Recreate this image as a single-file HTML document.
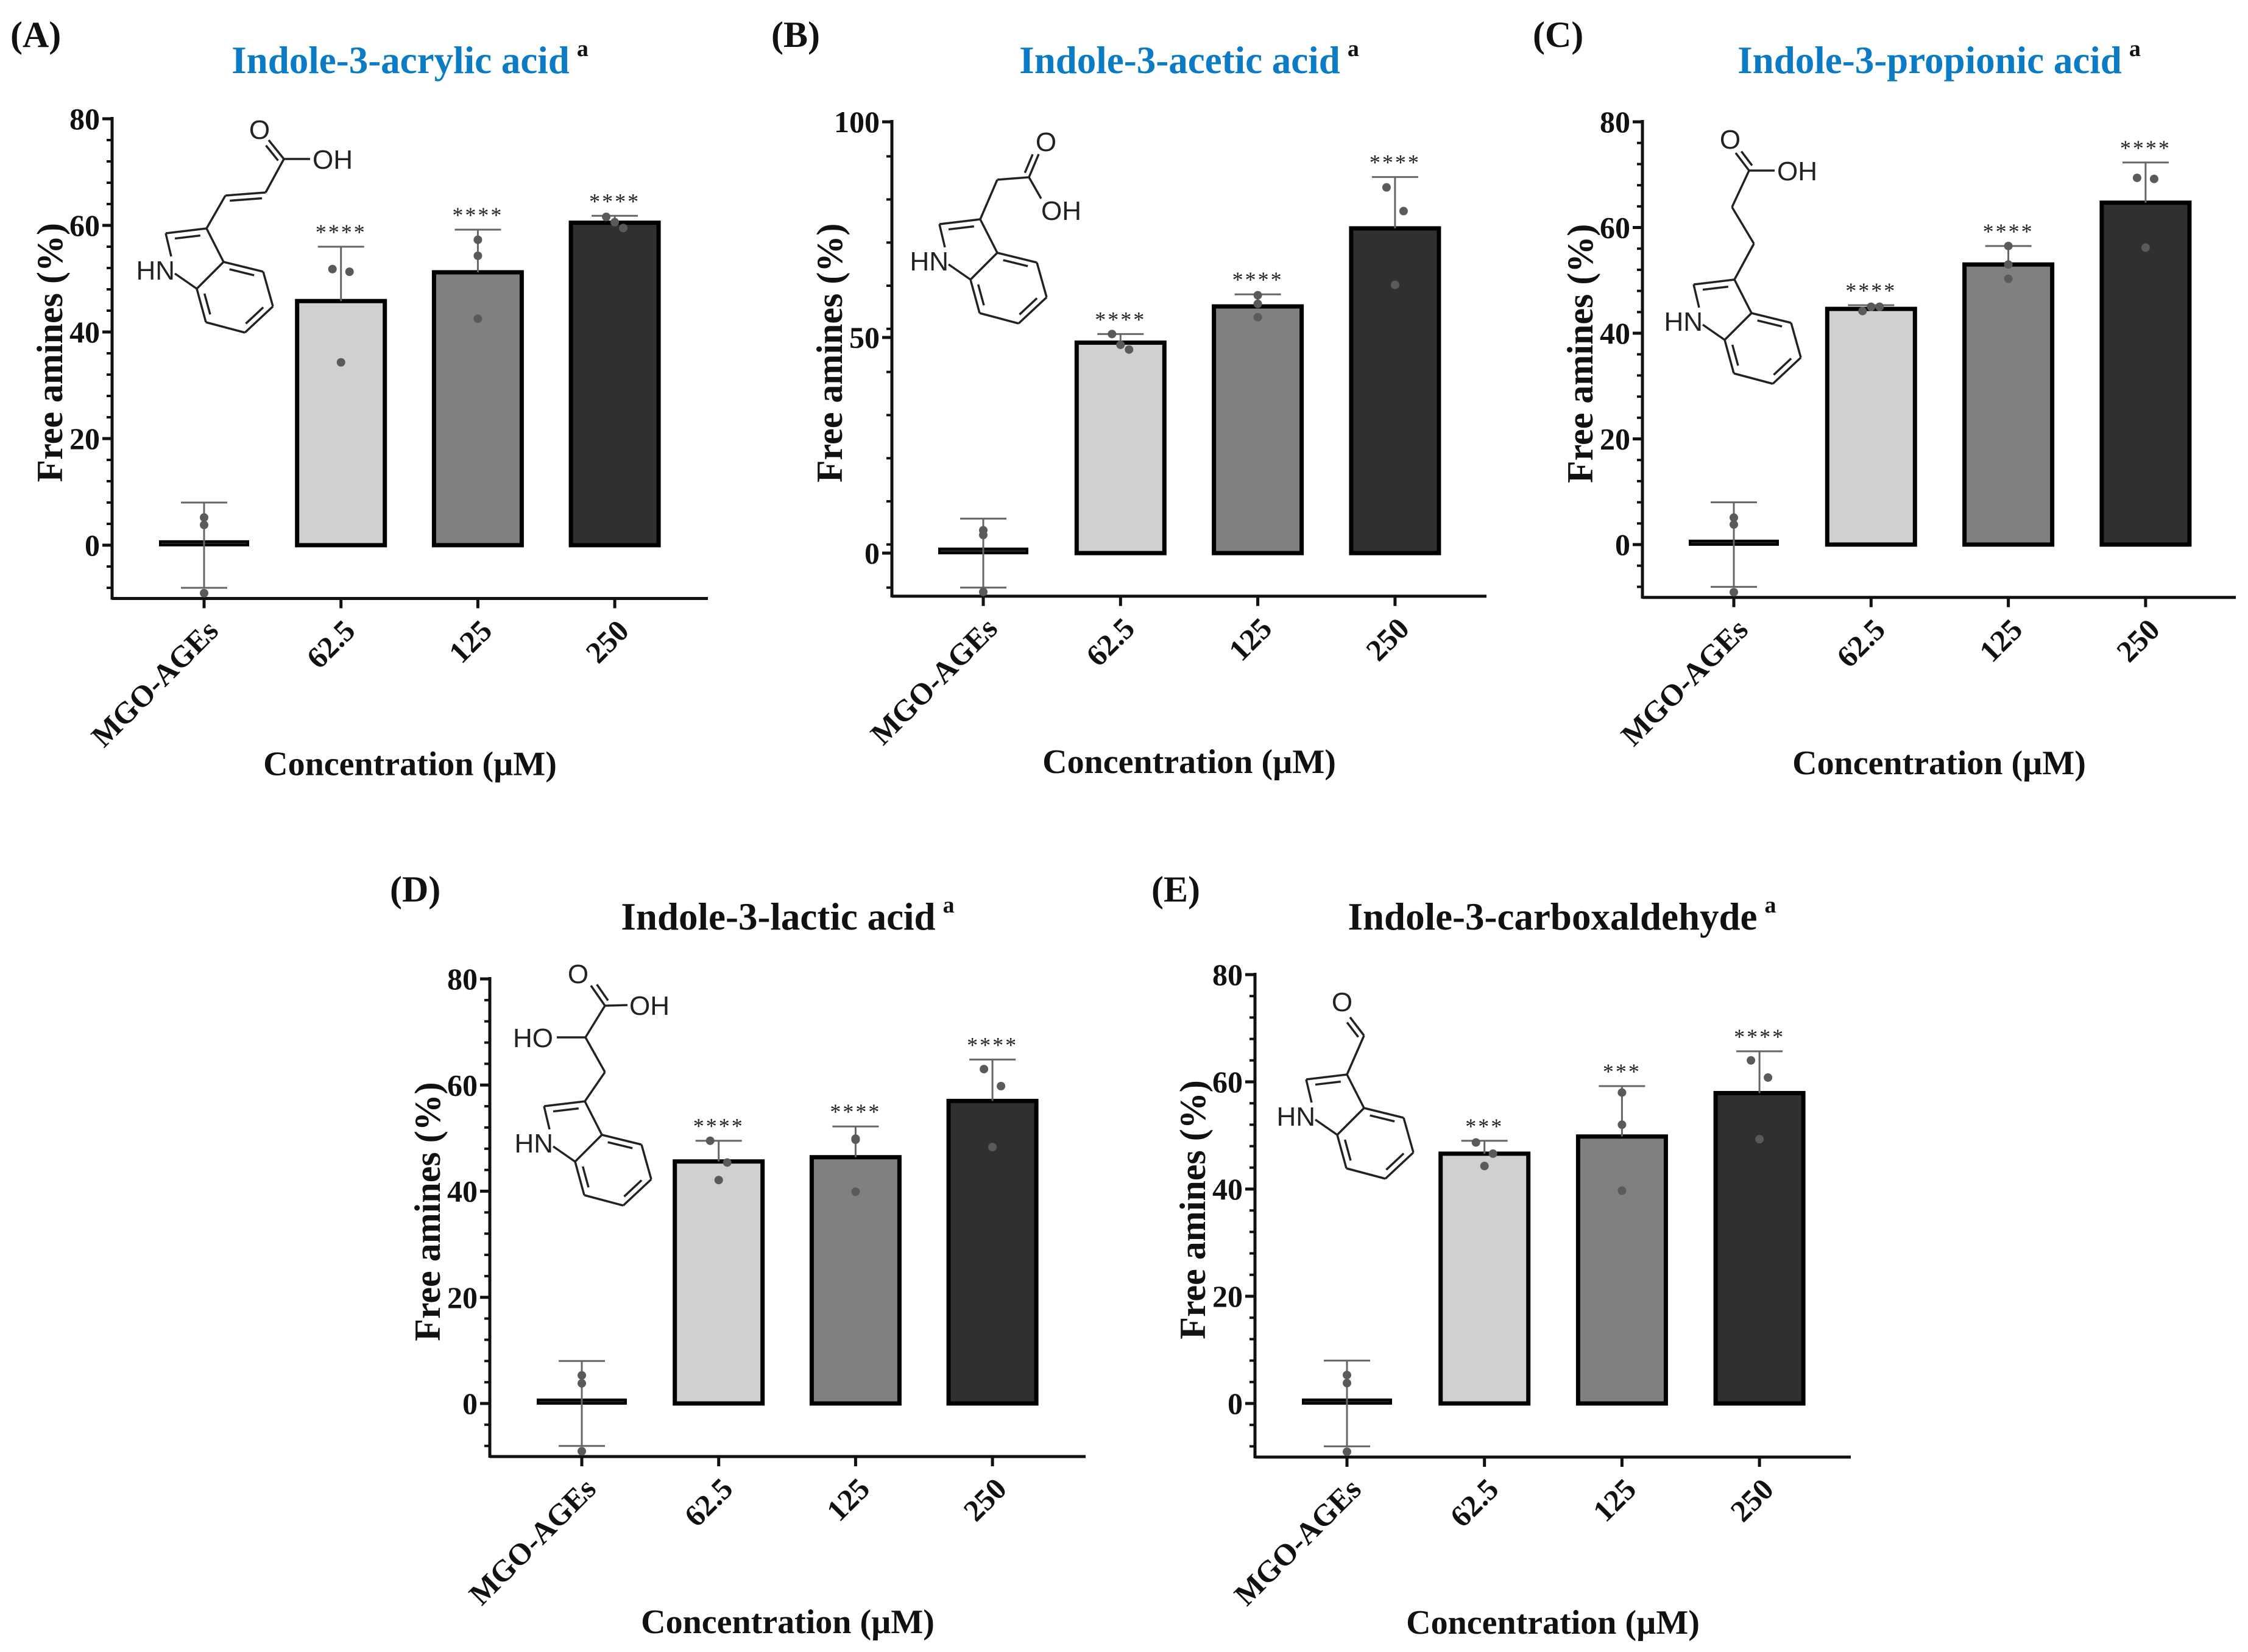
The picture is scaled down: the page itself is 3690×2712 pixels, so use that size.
<!DOCTYPE html>
<html><head><meta charset="utf-8"><style>
html,body{margin:0;padding:0;background:#fff;}
svg{display:block;font-family:"Liberation Serif",serif;}
</style></head><body>
<svg id="fig" width="3690" height="2712" viewBox="0 0 3690 2712" xmlns="http://www.w3.org/2000/svg"></svg>
<script>
const categories = ["MGO-AGEs","62.5","125","250"];
// Panel A
const meansA = [0.7, 45.8, 51.2, 60.5];
const upperA = [8, 56, 59.2, 61.8];
const lowerA = [-8, null, null, null];
const pointsA = [[5.2,3.8,-9],[51.8,51.3,34.3],[57.3,54.3,42.5],[61.6,59.5,60.6]];
const starsA = ["", "****", "****", "****"];
// Panel B
const meansB = [1, 48.8, 57.2, 75.3];
const upperB = [8, 50.8, 60, 87.2];
const lowerB = [-8, null, null, null];
const pointsB = [[5.3,4.2,-9],[50.8,47.2,48.3],[59.8,57.8,54.7],[84.8,79.3,62.2]];
const starsB = ["", "****", "****", "****"];
// Panel C
const meansC = [0.7, 44.6, 53.0, 64.7];
const upperC = [8, 45.3, 56.5, 72.3];
const lowerC = [-8, null, null, null];
const pointsC = [[5.1,3.8,-9],[44.2,45.0,45.0],[56.5,53.0,50.3],[69.4,69.2,56.2]];
const starsC = ["", "****", "****", "****"];
// Panel D
const meansD = [0.7, 45.6, 46.4, 57];
const upperD = [8, 49.5, 52.2, 64.8];
const lowerD = [-8, null, null, null];
const pointsD = [[5.3,3.8,-9],[49.5,45.4,42.1],[49.9,49.7,39.9],[63,59.8,48.3]];
const starsD = ["", "****", "****", "****"];
// Panel E
const meansE = [0.7, 46.6, 49.8, 57.9];
const upperE = [8, 49, 59.2, 65.7];
const lowerE = [-8, null, null, null];
const pointsE = [[5.3,3.8,-9],[48.7,46.6,44.3],[58,52,39.7],[64,60.8,49.3]];
const starsE = ["", "***", "***", "****"];
const ticks80 = [0,20,40,60,80];
const ticks100 = [0,50,100];

const NS="http://www.w3.org/2000/svg";
const svg=document.getElementById('fig');
function el(tag,attrs,parent,text){const e=document.createElementNS(NS,tag);for(const k in attrs)e.setAttribute(k,attrs[k]);if(text!==undefined)e.textContent=text;(parent||svg).appendChild(e);return e;}

const fills=["#222","#d0d0d0","#808080","#303030"];
const jit=[[0,0,0],[-14,14,0],[0,0,0],[-14,14,0]];

function panel(p){
  const g=el('g',{});
  
  
  const Y=v=>p.y0-(v)*(p.y0-p.yTop)/p.ymax;
  const yb=Y(-10);
  const cx=i=>p.c0+i*p.dx;
  const lt=el('text',{x:p.lx,y:p.ly,'font-size':60,'font-weight':'bold',fill:'#111'},g,'('+p.id+')');
  
  
  const tt=el('text',{x:p.tx,y:p.ty,'font-size':63,'font-weight':'bold',fill:p.tcolor,'text-anchor':'middle'},g);
  
  
  el('tspan',{},tt,p.title);
  el('tspan',{dx:12,dy:-28,'font-size':38,fill:'#111'},tt,'a');
  const ya=el('g',{},g);
  
  
  el('line',{x1:p.ax,y1:p.yTop-3,x2:p.ax,y2:yb+2,stroke:'#111','stroke-width':5},ya);
  for(let v=-8;v<=p.ymax;v+=p.minor){el('line',{x1:p.ax-9,y1:Y(v),x2:p.ax,y2:Y(v),stroke:'#111','stroke-width':4},ya);}
  p.ticks.forEach(v=>{
    el('line',{x1:p.ax-16,y1:Y(v),x2:p.ax,y2:Y(v),stroke:'#111','stroke-width':5},ya);
    const t=el('text',{x:p.ax-20,y:Y(v)+17,'font-size':50,'font-weight':'bold','text-anchor':'end',fill:'#111'},ya,String(v));
    
    
  });
  const yt=el('text',{transform:`translate(${p.ax-82},${(p.yTop+yb)/2-10}) rotate(-90)`,'font-size':60,'font-weight':'bold','text-anchor':'middle',fill:'#111'},g,'Free amines (%)');
  
  
  const xa=el('g',{},g);
  
  
  el('line',{x1:p.ax,y1:yb,x2:p.right,y2:yb,stroke:'#111','stroke-width':5},xa);
  categories.forEach((c,i)=>{
    el('line',{x1:cx(i),y1:yb,x2:cx(i),y2:yb+16,stroke:'#111','stroke-width':5},xa);
    const t=el('text',{transform:`translate(${cx(i)+26},${yb+56}) rotate(-45)`,'font-size':50,'font-weight':'bold','text-anchor':'end',fill:'#111'},xa,c);
    
    
  });
  const xt=el('text',{x:(p.ax+p.right)/2,y:yb+290,'font-size':56,'font-weight':'bold','text-anchor':'middle',fill:'#111'},g,'Concentration (\u00b5M)');
  
  
  p.means.forEach((m,i)=>{
    const w=144, x=cx(i)-w/2;
    const top=Y(m), h=Y(0)-top;
    const b=el('rect',{x:x,y:top,width:w,height:Math.max(h,3),fill:fills[i],stroke:'#000','stroke-width':i==0?4:7},g);
    
    
    const eg=el('g',{stroke:'#666','stroke-width':3},g);
    
    
    const lo=p.lower[i]!==null?p.lower[i]:m;
    el('line',{x1:cx(i),y1:Y(p.upper[i]),x2:cx(i),y2:Y(lo)},eg);
    el('line',{x1:cx(i)-38,y1:Y(p.upper[i]),x2:cx(i)+38,y2:Y(p.upper[i])},eg);
    if(p.lower[i]!==null) el('line',{x1:cx(i)-38,y1:Y(lo),x2:cx(i)+38,y2:Y(lo)},eg);
    p.points[i].forEach((v,k)=>{
      const d=el('circle',{cx:cx(i)+jit[i][k],cy:Y(v),r:7,fill:'#5a5a5a'},g);
      
      
    });
    if(p.stars[i]){
      const s=el('text',{x:cx(i),y:Y(p.upper[i])-12,'font-size':36,'text-anchor':'middle',fill:'#222','letter-spacing':3},g,p.stars[i]);
      
      
    }
  });
  const sg=el('g',{stroke:'#222','stroke-width':3.5,fill:'none','stroke-linejoin':'round'},g);
  
  
  const [ox,oy]=p.c3;
  const P=(a)=>[ox+a[0],oy+a[1]];
  const C3=[0,0],C2=[-67,8],N=[-62,68],C7a=[-16,99],C3a=[28,55],C4=[93,71],C5=[109,128],C6=[63,171],C7=[-1,154];
  const L=(a,b)=>{const A=P(a),B=P(b);el('line',{x1:A[0],y1:A[1],x2:B[0],y2:B[1]},sg);};
  const cen=[46,113];
  const D=(a,b,c)=>{const A=P(a),B=P(b),Cc=P(c);const sh=(q)=>[q[0]+(Cc[0]-q[0])*0.18,q[1]+(Cc[1]-q[1])*0.18];
    const a2=sh(A),b2=sh(B);const ax=a2[0]+(b2[0]-a2[0])*0.12,ay=a2[1]+(b2[1]-a2[1])*0.12,bx=b2[0]-(b2[0]-a2[0])*0.12,by=b2[1]-(b2[1]-a2[1])*0.12;
    el('line',{x1:ax,y1:ay,x2:bx,y2:by},sg);};
  L(C3,C2);L(C2,[N[0]+4,N[1]-22]);L([N[0]+10,N[1]+6],C7a);L(C7a,C3a);L(C3a,C3);L(C3a,C4);L(C4,C5);L(C5,C6);L(C6,C7);L(C7,C7a);
  D(C2,C3,[-20,60]);D(C3a,C4,cen);D(C5,C6,cen);D(C7,C7a,cen);
  el('text',{x:ox+N[0]+10,y:oy+N[1]+16,'font-size':44,'font-family':'Liberation Sans, sans-serif','text-anchor':'end',fill:'#222',stroke:'none'},sg,'HN');
  p.chain.forEach(s=>{
    if(s.t){el('text',{x:ox+s.x,y:oy+s.y,'font-size':44,'font-family':'Liberation Sans, sans-serif','text-anchor':s.a||'start',fill:'#222',stroke:'none'},sg,s.t);}
    else {L(s.a,s.b); if(s.d) {const A=P(s.a),B=P(s.b);const dx=B[0]-A[0],dy=B[1]-A[1],l=Math.hypot(dx,dy);const nx=-dy/l*s.d*9,ny=dx/l*s.d*9;
      el('line',{x1:A[0]+nx+dx*0.1,y1:A[1]+ny+dy*0.1,x2:B[0]+nx-dx*0.1,y2:B[1]+ny-dy*0.1},sg);}}
  });
}

const acrylic=[{a:[0,0],b:[31,-54]},{a:[31,-54],b:[97,-59],d:1},{a:[97,-59],b:[127,-114]},{a:[127,-114],b:[102,-145],d:-1},{a:[127,-114],b:[170,-114]},{t:'O',x:87,y:-147,a:'middle'},{t:'OH',x:174,y:-98}];
const acetic=[{a:[0,0],b:[28,-65]},{a:[28,-65],b:[80,-69]},{a:[80,-69],b:[96,-107],d:-1},{a:[80,-69],b:[100,-34]},{t:'O',x:108,y:-112,a:'middle'},{t:'OH',x:100,y:1}];
const propionic=[{a:[0,0],b:[32,-59]},{a:[32,-59],b:[-4,-119]},{a:[-4,-119],b:[24,-179]},{a:[24,-179],b:[2,-208],d:1},{a:[24,-179],b:[66,-179]},{t:'O',x:-7,y:-215,a:'middle'},{t:'OH',x:70,y:-163}];
const lactic=[{a:[0,0],b:[33,-48]},{a:[33,-48],b:[1,-105]},{a:[1,-105],b:[-46,-105]},{t:'HO',x:-52,y:-89,a:'end'},{a:[1,-105],b:[33,-157]},{a:[33,-157],b:[10,-190],d:1},{a:[33,-157],b:[70,-158]},{t:'O',x:-11,y:-194,a:'middle'},{t:'OH',x:73,y:-142}];
const aldehyde=[{a:[0,0],b:[28,-64]},{a:[28,-64],b:[5,-94],d:-1},{t:'O',x:-8,y:-104,a:'middle'}];

panel({id:'A',title:'Indole-3-acrylic acid',tcolor:'#0a7bc4',lx:17,ly:77,tx:673,ty:120,ax:184,yTop:195,y0:895,ymax:80,ticks:ticks80,minor:4,right:1162,c0:335,dx:224.7,
  means:meansA,upper:upperA,lower:lowerA,points:pointsA,stars:starsA,c3:[339,375],chain:acrylic});
panel({id:'B',title:'Indole-3-acetic acid',tcolor:'#0a7bc4',lx:1266,ly:77,tx:1952,ty:120,ax:1464,yTop:200,y0:908,ymax:100,ticks:ticks100,minor:10,right:2440,c0:1614,dx:225.3,
  means:meansB,upper:upperB,lower:lowerB,points:pointsB,stars:starsB,c3:[1609,360],chain:acetic});
panel({id:'C',title:'Indole-3-propionic acid',tcolor:'#0a7bc4',lx:2516,ly:77,tx:3183,ty:120,ax:2696,yTop:200,y0:894,ymax:80,ticks:ticks80,minor:4,right:3670,c0:2846,dx:225.3,
  means:meansC,upper:upperC,lower:lowerC,points:pointsC,stars:starsC,c3:[2847,459],chain:propionic});
panel({id:'D',title:'Indole-3-lactic acid',tcolor:'#111',lx:640,ly:1480,tx:1293,ty:1526,ax:804,yTop:1607,y0:2304,ymax:80,ticks:ticks80,minor:4,right:1782,c0:955,dx:224.7,
  means:meansD,upper:upperD,lower:lowerD,points:pointsD,stars:starsD,c3:[960,1808],chain:lactic});
panel({id:'E',title:'Indole-3-carboxaldehyde',tcolor:'#111',lx:1890,ly:1480,tx:2564,ty:1526,ax:2060,yTop:1600,y0:2304,ymax:80,ticks:ticks80,minor:4,right:3038,c0:2211,dx:225.7,
  means:meansE,upper:upperE,lower:lowerE,points:pointsE,stars:starsE,c3:[2211,1764],chain:aldehyde});
</script>
</body></html>
